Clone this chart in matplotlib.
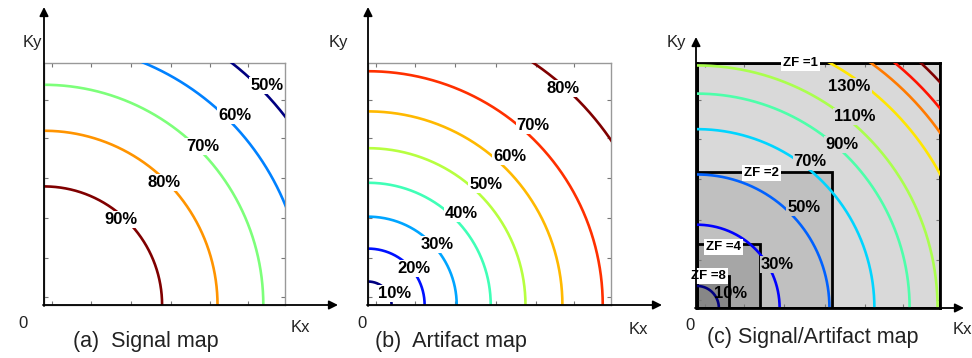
import numpy as np
import matplotlib
matplotlib.use('Agg')
import matplotlib.pyplot as plt
from matplotlib.colors import Normalize
from matplotlib.patches import Rectangle

plt.rcParams['font.family'] = ['Liberation Sans', 'DejaVu Sans']

# contour levels (%) and radius of each quarter circle (box side = 1)
signal_levels = [50, 60, 70, 80, 90]
signal_radii = [1.268, 1.083, 0.91, 0.72, 0.49]
signal_lab_xy = [(0.924, 0.905), (0.792, 0.785), (0.657, 0.654), (0.498, 0.505), (0.318, 0.354)]

artifact_levels = [10, 20, 30, 40, 50, 60, 70, 80]
artifact_radii = [0.097, 0.233, 0.365, 0.505, 0.648, 0.80, 0.966, 1.21]
artifact_lab_xy = [(0.111, 0.048), (0.187, 0.152), (0.283, 0.248), (0.383, 0.379),
                   (0.484, 0.496), (0.584, 0.613), (0.68, 0.74), (0.804, 0.895)]

ratio_levels = [10, 30, 50, 70, 90, 110, 130, 150, 170, 190]
ratio_radii = [0.09, 0.34, 0.545, 0.73, 0.875, 0.99, 1.14, 1.23, 1.29, 1.36]
ratio_labels = ['10%', '30%', '50%', '70%', '90%', '110%', '130%']
ratio_lab_xy = [(0.138, 0.06), (0.331, 0.176), (0.439, 0.411), (0.466, 0.597),
                (0.596, 0.669), (0.648, 0.781), (0.627, 0.906)]

# zero-filling boxes: factor, size, fill, label position
zf_names = ['ZF =1', 'ZF =2', 'ZF =4', 'ZF =8']
zf_sizes = [1.0, 0.555, 0.26, 0.13]
zf_fill = ['#d9d9d9', '#c0c0c0', '#a6a6a6', '#878787']
zf_lab_xy = [(0.426, 1.0), (0.265, 0.552), (0.108, 0.248), (0.046, 0.131)]

W, H = 972, 358
fig = plt.figure(figsize=(W / 100, H / 100), dpi=100)

def px_axes(l, t, r, b):
    return fig.add_axes([l / W, 1 - b / H, (r - l) / W, (b - t) / H])

tick_pos = [0.033, 0.194, 0.36, 0.525, 0.69, 0.847]

def setup(ax, edge='#999999', lw=1.0):
    ax.set_xlim(0, 1)
    ax.set_ylim(0, 1)
    ax.set_xticks(tick_pos)
    ax.set_yticks(tick_pos)
    ax.set_xticklabels([])
    ax.set_yticklabels([])
    ax.tick_params(direction='in', length=3, width=0.8, color='#777777',
                   top=True, right=True)
    for s in ax.spines.values():
        s.set_color(edge)
        s.set_linewidth(lw)

def arcs(ax, levels, radii):
    norm = Normalize(min(levels), max(levels))
    th = np.linspace(0, np.pi / 2, 400)
    for lev, r in zip(levels, radii):
        ax.plot(r * np.cos(th), r * np.sin(th), color=plt.cm.jet(norm(lev)),
                lw=1.9, zorder=3)

def labels(ax, texts, xy, bg):
    for t, (x, y), c in zip(texts, xy, bg):
        kw = dict(ha='center', va='center', fontsize=12, fontweight='bold', zorder=5)
        if c is not None:
            kw['bbox'] = dict(boxstyle='square,pad=0.06', fc=c, ec='none')
        ax.text(x, y, t, **kw)

# (a) signal map
ax1 = px_axes(44, 63, 285, 305)
setup(ax1)
arcs(ax1, signal_levels, signal_radii)
labels(ax1, ['%d%%' % v for v in signal_levels], signal_lab_xy, ['white'] * 5)

# (b) artifact map
ax2 = px_axes(368, 63, 611, 305)
setup(ax2)
arcs(ax2, artifact_levels, artifact_radii)
labels(ax2, ['%d%%' % v for v in artifact_levels], artifact_lab_xy, ['white'] * 8)

# (c) signal/artifact map
ax3 = px_axes(697, 63, 940, 308)
setup(ax3, edge='black', lw=2.0)
for s, c in zip(zf_sizes, zf_fill):
    ax3.add_patch(Rectangle((0, 0), s, s, fc=c, ec='black', lw=2.0, zorder=1))
arcs(ax3, ratio_levels, ratio_radii)
bg3 = [None, zf_fill[1], zf_fill[1], zf_fill[0], zf_fill[0], zf_fill[0], zf_fill[0]]
labels(ax3, ratio_labels, ratio_lab_xy, bg3)
for name, (x, y) in zip(zf_names, zf_lab_xy):
    ax3.text(x, y, name, ha='center', va='center', fontsize=9.5, fontweight='bold',
             zorder=6, clip_on=False,
             bbox=dict(boxstyle='square,pad=0.15', fc='white', ec='none'))

# overlay for arrows and axis texts (pixel coordinates)
ov = fig.add_axes([0, 0, 1, 1], zorder=10)
ov.set_xlim(0, W)
ov.set_ylim(H, 0)
ov.axis('off')
ov.patch.set_alpha(0)

origins = [(44, 305), (368, 305), (696, 308)]
ytips = [7, 7, 37]
xtips = [338, 662, 964]
for (x0, y0), yt, xt in zip(origins, ytips, xtips):
    ap = dict(arrowstyle='-|>', color='black', lw=1.3, mutation_scale=13,
              shrinkA=0, shrinkB=0)
    ov.annotate('', xy=(x0, yt), xytext=(x0, y0 + 1), arrowprops=ap)
    ov.annotate('', xy=(xt, y0), xytext=(x0 - 1, y0), arrowprops=ap)

txt = dict(fontsize=12, ha='center', va='center', color='#222222')
for x, y in [(32, 42), (338, 42), (676, 43)]:
    ov.text(x, y, 'Ky', **txt)
for x, y in [(300, 328), (638, 329), (962, 330)]:
    ov.text(x, y, 'Kx', **txt)
for x, y in [(23, 323), (362, 323), (690, 326)]:
    ov.text(x, y, '0', **txt)

cap = dict(fontsize=15.5, ha='left', va='center', color='#222222')
ov.text(73, 341, '(a)  Signal map', **cap)
ov.text(375, 341, '(b)  Artifact map', **cap)
ov.text(707, 338, '(c) Signal/Artifact map', **cap)

fig.savefig('out.png', dpi=100)
